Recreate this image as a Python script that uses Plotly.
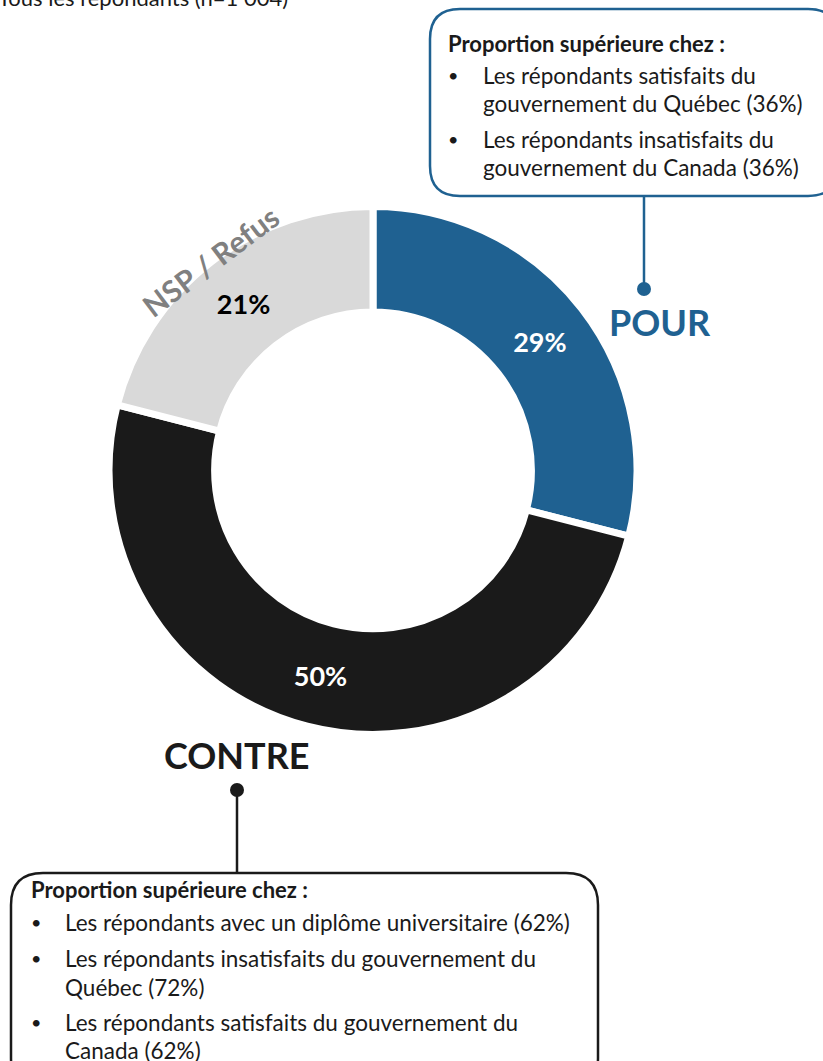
import plotly.graph_objects as go

W, H = 823, 1061

labels = ["POUR", "CONTRE", "NSP / Refus"]
values = [29, 50, 21]
colors = ["#1F6191", "#1A1A1A", "#D9D9D9"]
text_colors = ["white", "white", "black"]

title_text = "Tous les répondants (n=1 004)"
box_header = "Proportion supérieure chez :"
pour_items = [
    ["Les répondants satisfaits du", "gouvernement du Québec (36%)"],
    ["Les répondants insatisfaits du", "gouvernement du Canada (36%)"],
]
contre_items = [
    ["Les répondants avec un diplôme universitaire (62%)"],
    ["Les répondants insatisfaits du gouvernement du", "Québec (72%)"],
    ["Les répondants satisfaits du gouvernement du", "Canada (62%)"],
]

FONT = "Lato"
BLUE = "#1F6191"

# donut geometry (pixels)
cx, cy, R = 373, 470.5, 264
hole = 0.60

fig = go.Figure()
fig.add_trace(go.Pie(
    labels=labels, values=values, sort=False, direction="clockwise", rotation=0,
    hole=hole,
    marker=dict(colors=colors, line=dict(color="white", width=7)),
    texttemplate="<b>%{value}%</b>", textposition="inside",
    insidetextorientation="horizontal",
    textfont=dict(family=FONT, size=27, color=text_colors),
    domain=dict(x=[(cx - R) / W, (cx + R) / W], y=[1 - (cy + R) / H, 1 - (cy - R) / H]),
    showlegend=False, hoverinfo="label+value",
))

def rrect(x0, y0, x1, y1, r):
    return (f"M{x0 + r},{y0} L{x1 - r},{y0} Q{x1},{y0} {x1},{y0 + r} "
            f"L{x1},{y1 - r} Q{x1},{y1} {x1 - r},{y1} L{x0 + r},{y1} "
            f"Q{x0},{y1} {x0},{y1 - r} L{x0},{y0 + r} Q{x0},{y0} {x0 + r},{y0} Z")

shapes = []
# top box
shapes.append(dict(type="path", xref="x", yref="y", path=rrect(430, 9, 838, 196, 30),
                   line=dict(color=BLUE, width=2.5)))
shapes.append(dict(type="line", xref="x", yref="y", x0=644, x1=644, y0=196, y1=289,
                   line=dict(color=BLUE, width=2.5)))
shapes.append(dict(type="circle", xref="x", yref="y", x0=637, x1=651, y0=282, y1=296,
                   fillcolor=BLUE, line=dict(color=BLUE, width=0)))
# bottom box
shapes.append(dict(type="path", xref="x", yref="y", path=rrect(11, 873, 598, 1090, 32),
                   line=dict(color="#1A1A1A", width=2.5)))
shapes.append(dict(type="line", xref="x", yref="y", x0=237, x1=237, y0=790, y1=873,
                   line=dict(color="#1A1A1A", width=2.5)))
shapes.append(dict(type="circle", xref="x", yref="y", x0=230, x1=244, y0=783, y1=797,
                   fillcolor="#1A1A1A", line=dict(color="#1A1A1A", width=0)))

ann = []
def txt(x, y, s, size=22, color="#1A1A1A", bold=False, xanchor="left", angle=0):
    ann.append(dict(x=x, y=y, xref="x", yref="y", text=f"<b>{s}</b>" if bold else s,
                    showarrow=False, xanchor=xanchor, yanchor="middle", textangle=angle,
                    font=dict(family=FONT, size=size, color=color)))

# title, partially cut at the top edge (paper ref so it is not hidden)
ann.append(dict(x=-4 / W, y=1 + 2 / H, xref="paper", yref="paper", text=title_text,
                showarrow=False, xanchor="left", yanchor="middle",
                font=dict(family=FONT, size=22, color="#1A1A1A")))

# top box text
txt(446, 43, box_header, size=22, bold=True)
ys = [[75, 103], [139, 167]]
for item, yy in zip(pour_items, ys):
    txt(446, yy[0], "•", size=18)
    for line, y in zip(item, yy):
        txt(481, y, line, size=22.5)

# bottom box text
txt(29, 889, box_header, size=22, bold=True)
ys = [[922], [958, 987], [1022, 1050]]
for item, yy in zip(contre_items, ys):
    txt(29, yy[0], "•", size=18)
    for line, y in zip(item, yy):
        txt(63, y, line, size=22.5)

# category labels
txt(660, 322, labels[0], size=36, color=BLUE, bold=True, xanchor="center")
txt(237, 755, labels[1], size=36, color="#1A1A1A", bold=True, xanchor="center")
txt(210, 261, labels[2], size=30, color="#808080", bold=True, xanchor="center", angle=-37)

fig.update_layout(
    width=W, height=H, margin=dict(l=0, r=0, t=0, b=0),
    paper_bgcolor="white", plot_bgcolor="rgba(0,0,0,0)",
    xaxis=dict(range=[0, W], visible=False, fixedrange=True, domain=[0, 1]),
    yaxis=dict(range=[H, 0], visible=False, fixedrange=True, domain=[0, 1]),
    shapes=shapes, annotations=ann,
)
fig.write_html("out.html", config={"displayModeBar": False},
               post_script="document.body.style.margin='0';document.body.style.overflow='hidden';")
